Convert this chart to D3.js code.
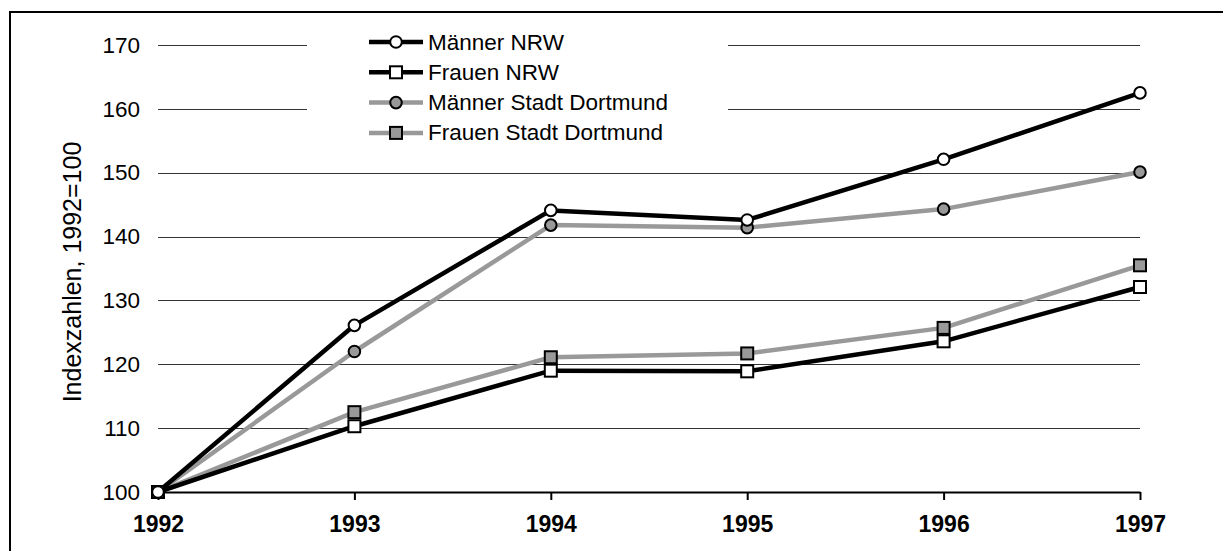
<!DOCTYPE html>
<html>
<head>
<meta charset="utf-8">
<script src="https://cdn.jsdelivr.net/npm/d3@7"></script>
<style>
  body { margin: 0; background: #fff; }
  svg { display: block; font-family: Arial, "Liberation Sans", sans-serif; }
</style>
</head>
<body>
<div class="chart"></div>
<script>
var years = [1992, 1993, 1994, 1995, 1996, 1997];
var yTicks = [100, 110, 120, 130, 140, 150, 160, 170];

var maennerNRW = [100, 126.1, 144.1, 142.6, 152.1, 162.5];
var frauenNRW = [100, 110.3, 119.0, 118.9, 123.6, 132.1];
var maennerDO = [100, 122.0, 141.8, 141.4, 144.3, 150.1];
var frauenDO = [100, 112.5, 121.1, 121.7, 125.7, 135.5];

var series = [
  {name: 'Männer NRW', values: maennerNRW, stroke: '#000', fill: '#fff', shape: 'circle'},
  {name: 'Frauen NRW', values: frauenNRW, stroke: '#000', fill: '#fff', shape: 'square'},
  {name: 'Männer Stadt Dortmund', values: maennerDO, stroke: '#999', fill: '#999', shape: 'circle'},
  {name: 'Frauen Stadt Dortmund', values: frauenDO, stroke: '#999', fill: '#999', shape: 'square'}
];

var W = 1223, H = 551;
var font = "Arial, 'Liberation Sans', sans-serif";
var svg = d3.select(".chart").append("svg")
    .attr("width", W)
    .attr("height", H)

// outer frame (runs off the right and bottom edges)
svg.append("rect")
    .attr("x", 10).attr("y", 12)
    .attr("width", 1240).attr("height", 600)
    .attr("fill", "none")
    .attr("stroke", "#000")
    .attr("stroke-width", 2)

var x = d3.scaleLinear().domain([1992, 1997]).range([158, 1140]);
var y = d3.scaleLinear().domain([100, 170]).range([492, 45]);

// gridlines
svg.append("g").selectAll("line")
    .data(yTicks.slice(1))
    .enter().append("line")
    .attr("x1", 158).attr("x2", 1140)
    .attr("y1", function (d) { return Math.round(y(d)) + 0.5; })
    .attr("y2", function (d) { return Math.round(y(d)) + 0.5; })
    .attr("stroke", "#333")
    .attr("stroke-width", 1)

// y labels
var yAxis = d3.axisLeft(y).tickValues(yTicks).tickSize(0).tickPadding(18);
var gy = svg.append("g").attr("transform", "translate(158,0)").call(yAxis)
    .attr("font-size", 22.5).attr("font-family", font);
gy.select(".domain").remove();
gy.selectAll("text").attr("fill", "#000")

// x axis
var xAxis = d3.axisBottom(x).tickValues(years).tickFormat(d3.format("d")).tickSize(8).tickSizeOuter(0).tickPadding(16);
var gx = svg.append("g").attr("transform", "translate(0,492)").call(xAxis)
    .attr("font-size", 23).attr("font-family", font).attr("font-weight", "bold");
gx.select(".domain").attr("stroke", "#000").attr("stroke-width", 2);
gx.selectAll(".tick line").attr("stroke", "#000").attr("stroke-width", 2);
gx.selectAll("text").attr("fill", "#000")

// y title
svg.append("text")
    .attr("transform", "translate(81,272) rotate(-90)")
    .attr("text-anchor", "middle")
    .attr("font-size", "25px")
    .attr("fill", "#000")
    .text("Indexzahlen, 1992=100")

var line = d3.line()
    .x(function (d, i) { return x(years[i]); })
    .y(function (d) { return y(d); });

function marker(g, s, cx, cy) {
  if (s.shape === 'circle') {
    g.append("circle").attr("cx", cx).attr("cy", cy).attr("r", 5.8)
      .attr("fill", s.fill).attr("stroke", "#000").attr("stroke-width", 2)
  } else {
    g.append("rect").attr("x", cx - 6).attr("y", cy - 6).attr("width", 12).attr("height", 12)
      .attr("fill", s.fill).attr("stroke", "#000").attr("stroke-width", 2)
  }
}

// draw lines in back-to-front order
var order = [3, 2, 1, 0];
order.forEach(function (k) {
  var s = series[k];
  svg.append("path")
      .attr("d", line(s.values))
      .attr("fill", "none")
      .attr("stroke", s.stroke)
      .attr("stroke-width", 4.5)
      .attr("stroke-linejoin", "round")
});
order.forEach(function (k) {
  var s = series[k];
  var g = svg.append("g");
  s.values.forEach(function (v, i) { marker(g, s, x(years[i]), y(v)); });
});

// legend
var leg = svg.append("g");
leg.append("rect")
    .attr("x", 307).attr("y", 28).attr("width", 421).attr("height", 124)
    .attr("fill", "#fff")
var rowY = [42, 72.3, 102.6, 132.9];
series.forEach(function (s, i) {
  var gy2 = rowY[i];
  leg.append("line")
      .attr("x1", 369).attr("x2", 423)
      .attr("y1", gy2).attr("y2", gy2)
      .attr("stroke", s.stroke).attr("stroke-width", 4.5)
  marker(leg, s, 396, gy2);
  leg.append("text")
      .attr("x", 428).attr("y", gy2 + 7.5)
      .attr("font-size", "22.5px")
      .attr("font-family", font)
      .attr("fill", "#000")
      .text(s.name)
});
</script>
</body>
</html>
